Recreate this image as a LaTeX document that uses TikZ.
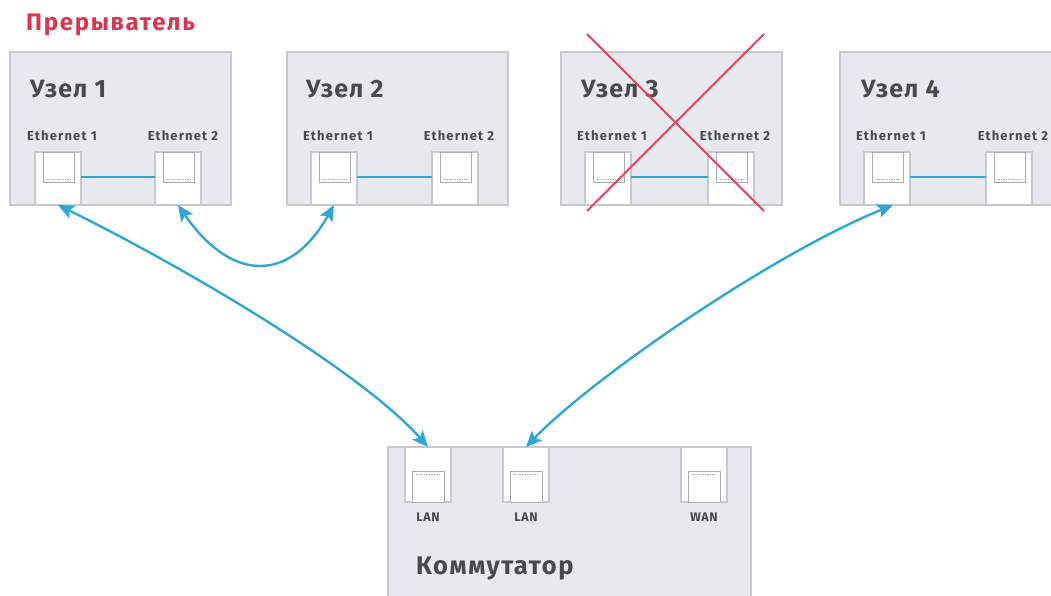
\documentclass[tikz,border=0pt]{standalone}
\usepackage{fontspec}
\setmainfont{Fira Sans}
\usetikzlibrary{arrows.meta}
\definecolor{boxfill}{HTML}{E8E9EE}
\definecolor{boxline}{HTML}{C6C9CD}
\definecolor{linkblue}{HTML}{2EA6D6}
\definecolor{redtext}{HTML}{D8354F}
\definecolor{crossred}{HTML}{DA4860}
\definecolor{txt}{HTML}{4A4A4A}
\definecolor{innergray}{HTML}{A8ABAF}

\newcommand{\ethport}[3]{%
  \node[portbox, minimum height=53pt] (#1) at (#2,#3) {};
  \draw[innerline] (#2+8,#3) rectangle (#2+39,#3+30);
  \draw[dashline] (#2+12,#3+27) -- (#2+35,#3+27);
}
\newcommand{\swport}[3]{%
  \node[portbox, minimum height=55pt] (#1) at (#2,#3) {};
  \draw[innerline] (#2+7,#3+24) rectangle (#2+39,#3+55);
  \draw[dashline] (#2+11,#3+27) -- (#2+35,#3+27);
}

\begin{document}
\begin{tikzpicture}[x=1pt,y=-1pt,
  devbox/.style={draw=boxline, fill=boxfill, line width=1.8pt, inner sep=0pt, outer sep=0pt,
    anchor=north west, minimum width=221pt, minimum height=153pt},
  portbox/.style={draw=boxline, fill=white, line width=1.2pt, inner sep=0pt, outer sep=0pt,
    anchor=north west, minimum width=46pt},
  innerline/.style={draw=innergray, line width=0.8pt, fill=white},
  dashline/.style={draw=innergray, line width=0.8pt, dash pattern=on 1.5pt off 1pt},
  title/.style={anchor=west, inner sep=0pt, text=txt, font=\fontsize{25}{25}\selectfont\bfseries\addfontfeatures{LetterSpace=5}},
  plabel/.style={inner sep=0pt, text=txt, font=\fontsize{13}{13}\selectfont\bfseries\addfontfeatures{LetterSpace=9}},
  swlabel/.style={inner sep=0pt, text=txt, font=\fontsize{12.5}{12.5}\selectfont\bfseries\addfontfeatures{LetterSpace=4}},
  link/.style={draw=linkblue, line width=2pt},
  conn/.style={draw=linkblue, line width=2.4pt,
    {Stealth[length=16pt,width=14pt,inset=3.5pt]}-{Stealth[length=16pt,width=14pt,inset=3.5pt]}},
  cross/.style={draw=crossred, line width=1.8pt}
]
\path[use as bounding box] (0,0) rectangle (1051,596);
\clip (0,0) rectangle (1051,596);

% header
\node[anchor=west, inner sep=0pt, text=redtext,
  font=\fontsize{24}{24}\selectfont\bfseries\addfontfeatures{LetterSpace=7}] (hdr) at (26,25) {Прерыватель};

% node boxes
\node[devbox] (n1) at (10,52) {};
\node[devbox] (n2) at (287,52) {};
\node[devbox] (n3) at (561,52) {};
\node[devbox] (n4) at (840,52) {};

% titles
\node[title] (t1) at (30,89) {Узел 1};
\node[title] (t2) at (306,89) {Узел 2};
\node[title] (t3) at (581,89) {Узел 3};
\node[title] (t4) at (861,89) {Узел 4};

% ports
\ethport{n1a}{35}{152}
\ethport{n1b}{155}{152}
\ethport{n2a}{311}{152}
\ethport{n2b}{432}{152}
\ethport{n3a}{585}{152}
\ethport{n3b}{708}{152}
\ethport{n4a}{864}{152}
\ethport{n4b}{986}{152}

% port labels
\node[plabel] (l1a) at (62,136) {Ethernet 1};
\node[plabel] (l1b) at (183,136) {Ethernet 2};
\node[plabel] (l2a) at (338,136) {Ethernet 1};
\node[plabel] (l2b) at (459,136) {Ethernet 2};
\node[plabel] (l3a) at (612,136) {Ethernet 1};
\node[plabel] (l3b) at (735,136) {Ethernet 2};
\node[plabel] (l4a) at (891,136) {Ethernet 1};
\node[plabel] (l4b) at (1013,136) {Ethernet 2};

% internal links
\draw[link] ([yshift=1.5pt]n1a.east) -- ([yshift=1.5pt]n1b.west);
\draw[link] ([yshift=1.5pt]n2a.east) -- ([yshift=1.5pt]n2b.west);
\draw[link] ([yshift=1.5pt]n3a.east) -- ([yshift=1.5pt]n3b.west);
\draw[link] ([yshift=1.5pt]n4a.east) -- ([yshift=1.5pt]n4b.west);

% switch
\node[devbox, minimum width=363pt, minimum height=180pt] (sw) at (388,447) {};
\swport{lan1}{405}{447}
\swport{lan2}{503}{447}
\swport{wan}{681}{447}
\node[swlabel] (ll1) at (428,517) {LAN};
\node[swlabel] (ll2) at (526,517) {LAN};
\node[swlabel] (lw) at (704,517) {WAN};
\node[title, font=\fontsize{25.5}{25.5}\selectfont\bfseries\addfontfeatures{LetterSpace=6}] (tsw) at (416,568) {Коммутатор};

% connectors
\draw[conn] (n1a.south) .. controls (180,265) and (360,370) .. (lan1.north);
\draw[conn] (n1b.south) .. controls (232,283) and (290,283) .. (n2a.south);
\draw[conn] (lan2.north) .. controls (590,380) and (770,255) .. ([xshift=6pt]n4a.south);

% cross over node 3
\draw[cross] (587,34) -- (764,211);
\draw[cross] (764,34) -- (587,211);
\end{tikzpicture}
\end{document}
